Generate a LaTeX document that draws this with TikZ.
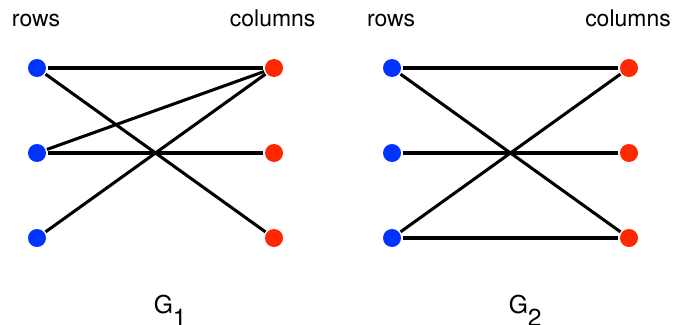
\documentclass[tikz,border=0pt]{standalone}
\usepackage{fontspec}
\setmainfont{TeX Gyre Heros}
\usetikzlibrary{positioning}
\definecolor{rowblue}{RGB}{0,51,255}
\definecolor{colred}{RGB}{255,40,0}
\newcommand{\gsub}[1]{G\raisebox{-0.55em}{#1}}

\begin{document}
\begin{tikzpicture}[line width=2.6pt, every node/.style={font=\fontsize{19.6}{24}\selectfont},
	rowdot/.style={circle, fill=rowblue, inner sep=0pt, minimum size=0.54cm},
	coldot/.style={circle, fill=colred, inner sep=0pt, minimum size=0.54cm},
	glabel/.style={anchor=base west, font=\fontsize{21}{25}\selectfont}]
				\useasboundingbox (0,0) rectangle (20.19,9.72);

				% G1
				\node[anchor=base] (rowsA) at (1.08,8.91) {rows};
				\node[anchor=base] (colsA) at (8.18,8.91) {columns};
				\node[rowdot] (a1) at (1.11,7.68) {};
				\node[rowdot] (a2) at (1.11,5.13) {};
				\node[rowdot] (a3) at (1.11,2.58) {};
				\node[coldot] (b1) at (8.22,7.68) {};
				\node[coldot] (b2) at (8.22,5.13) {};
				\node[coldot] (b3) at (8.22,2.58) {};
				\node[glabel] (gA) at (4.45,0.33) {\gsub{1}};

				\draw (a1) -- (b1);
				\draw (a1) -- (b3);
				\draw (a2) -- (b1);
				\draw (a2) -- (b2);
				\draw (a3) -- (b1);

				% G2
				\node[anchor=base] (rowsB) at (11.73,8.91) {rows};
				\node[anchor=base] (colsB) at (18.84,8.91) {columns};
				\node[rowdot] (c1) at (11.76,7.68) {};
				\node[rowdot] (c2) at (11.76,5.13) {};
				\node[rowdot] (c3) at (11.76,2.58) {};
				\node[coldot] (d1) at (18.87,7.68) {};
				\node[coldot] (d2) at (18.87,5.13) {};
				\node[coldot] (d3) at (18.87,2.58) {};
				\node[glabel] (gB) at (15.1,0.33) {\gsub{2}};

				\draw (c1) -- (d1);
				\draw (c1) -- (d3);
				\draw (c2) -- (d2);
				\draw (c3) -- (d1);
				\draw (c3) -- (d3);
\end{tikzpicture}
\end{document}
